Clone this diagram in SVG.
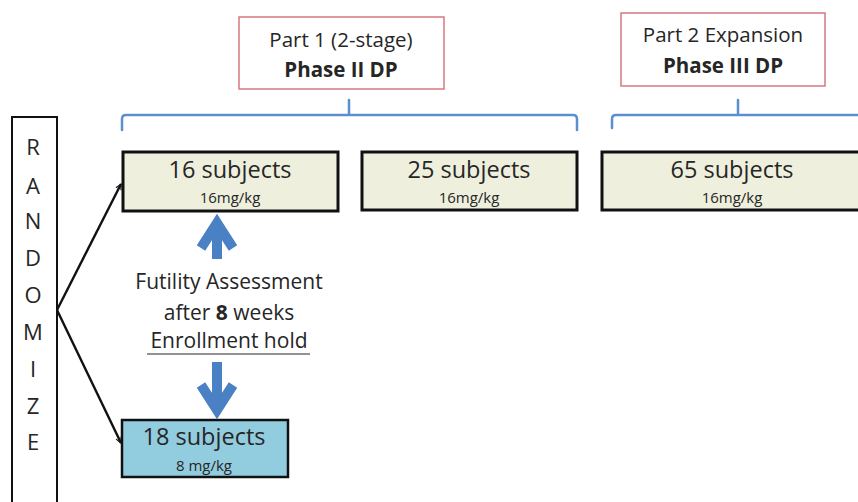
<svg xmlns="http://www.w3.org/2000/svg" width="858" height="502" viewBox="0 0 858 502">
  <style>
    text { font-family: "Open Sans", "Noto Sans", "Liberation Sans", sans-serif; fill: #262626; text-anchor: middle; }
    .phase { fill: #ffffff; stroke: #d9777f; stroke-width: 1.5; }
    .arm { fill: #eef0dd; stroke: #111111; stroke-width: 3; }
    .arm-low { fill: #92cddf; stroke: #111111; stroke-width: 2.5; }
    .brace { fill: none; stroke: #5b8fd0; stroke-width: 2.5; stroke-linejoin: round; stroke-linecap: round; }
    .big { font-size: 23.5px; }
    .dose { font-size: 15px; }
    .title { font-size: 20.5px; }
    .note { font-size: 21px; }
    .rand { font-size: 22px; }
    .conn { fill: none; stroke: #111111; stroke-width: 2.4; }
    .hold { fill: none; stroke: #4a80c4; stroke-width: 10; stroke-linejoin: miter; }
  </style>
  <defs>
    <marker id="head" viewBox="0 0 10 10" refX="9" refY="5" markerWidth="7" markerHeight="7" orient="auto" markerUnits="userSpaceOnUse">
      <path d="M1,1 L9,5 L1,9" fill="none" stroke="#111111" stroke-width="1.6"/>
    </marker>
  </defs>
  <rect width="858" height="502" fill="#ffffff"/>

  <g id="randomize">
    <rect x="12" y="117" width="45" height="400" fill="#ffffff" stroke="#111111" stroke-width="2"/>
    <text class="rand" x="33" y="155">R</text>
    <text class="rand" x="33" y="194">A</text>
    <text class="rand" x="33" y="229">N</text>
    <text class="rand" x="33" y="266">D</text>
    <text class="rand" x="33" y="303">O</text>
    <text class="rand" x="33" y="340">M</text>
    <text class="rand" x="33" y="377">I</text>
    <text class="rand" x="33" y="414">Z</text>
    <text class="rand" x="33" y="450">E</text>
  </g>

  <g id="part1">
    <rect class="phase" x="239" y="17" width="205" height="72"/>
    <text class="title" x="341" y="47">Part 1 (2-stage)</text>
    <text class="title" x="341" y="77" font-weight="bold">Phase II DP</text>
  </g>

  <g id="part2">
    <rect class="phase" x="621" y="13" width="204" height="73"/>
    <text class="title" x="723" y="42">Part 2 Expansion</text>
    <text class="title" x="723" y="73" font-weight="bold">Phase III DP</text>
  </g>

  <g id="brace1">
    <path class="brace" d="M122,130 L122,119 Q122,115 126,115 L573,115 Q577,115 577,119 L577,130 M349,115 L349,100"/>
  </g>
  <g id="brace2">
    <path class="brace" d="M612,128 L612,119 Q612,115 616,115 L860,115 M738,115 L738,100"/>
  </g>

  <g id="arm16">
    <rect class="arm" x="123" y="152" width="215" height="59"/>
    <text class="big" x="230" y="178">16 subjects</text>
    <text class="dose" x="230" y="203">16mg/kg</text>
  </g>

  <g id="arm25">
    <rect class="arm" x="362" y="152" width="215" height="58"/>
    <text class="big" x="469" y="178">25 subjects</text>
    <text class="dose" x="469" y="203">16mg/kg</text>
  </g>

  <g id="arm65">
    <rect class="arm" x="602" y="152" width="270" height="58"/>
    <text class="big" x="732" y="178">65 subjects</text>
    <text class="dose" x="732" y="203">16mg/kg</text>
  </g>

  <g id="arm18">
    <rect class="arm-low" x="122" y="420" width="166" height="57"/>
    <text class="big" x="204" y="445">18 subjects</text>
    <text class="dose" x="204" y="471">8 mg/kg</text>
  </g>

  <g id="futility">
    <text class="note" x="229" y="289">Futility Assessment</text>
    <text class="note" x="229" y="320">after <tspan font-weight="bold">8</tspan> weeks</text>
    <text class="note" x="229" y="348">Enrollment hold</text>
    <line x1="147" y1="354" x2="310" y2="354" stroke="#262626" stroke-width="1.2"/>
  </g>

  <g id="connectors">
    <line class="conn" x1="57" y1="310" x2="121" y2="184" marker-end="url(#head)"/>
    <line class="conn" x1="57" y1="310" x2="121" y2="443" marker-end="url(#head)"/>
    <path class="hold" d="M217,259 L217,224 M201,248 L217,223 L233,248"/>
    <path class="hold" d="M217,362 L217,410 M201,385 L217,410 L233,385"/>
  </g>
</svg>
